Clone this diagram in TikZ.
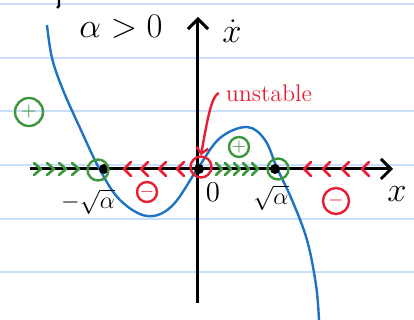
\documentclass[tikz,border=0pt]{standalone}
\usetikzlibrary{arrows.meta}

\definecolor{paperline}{RGB}{200,222,250}
\definecolor{inkgreen}{RGB}{60,150,60}
\definecolor{inkred}{RGB}{232,30,50}
\definecolor{inkblue}{RGB}{30,115,195}

\begin{document}
\begin{tikzpicture}[
  x=0.5pt, y=-0.5pt,
  axis/.style={draw=black, line width=1.5pt, -{Straight Barb[length=5pt, width=10pt, line width=1.5pt]}},
  curve/.style={draw=inkblue, line width=1.2pt},
  greenchev/.style={draw=inkgreen, line width=1.3pt, line cap=round, line join=round},
  redchev/.style={draw=inkred, line width=1.3pt, line cap=round, line join=round},
  greenring/.style={circle, draw=inkgreen, line width=1.2pt, minimum size=10.5pt, inner sep=0pt},
  redring/.style={circle, draw=inkred, line width=1.2pt, minimum size=10.5pt, inner sep=0pt},
  greensign/.style={circle, draw=inkgreen, line width=1.2pt, inner sep=0pt, text=inkgreen, font=\bfseries},
  redsign/.style={circle, draw=inkred, line width=1.2pt, inner sep=0pt, text=inkred, font=\bfseries},
  lbl/.style={font=\large}
]
  \useasboundingbox (0,0) rectangle (414,320);

  % notebook lines
  \foreach \y in {4,58,111,165,219,272}
    \draw[paperline, line width=1pt] (0,\y) -- (414,\y);

  % stray pen mark at the top
  \draw[line width=1.2pt] (59,0) -- (59,6) -- (57,8);

  % axes
  \coordinate (xstart) at (30,169);
  \coordinate (xend) at (393,169);
  \coordinate (ystart) at (198,303);
  \coordinate (yend) at (198,17);
  \draw[axis] (xstart) -- (xend);
  \draw[axis] (ystart) -- (yend);

  % phase curve
  \draw[curve] plot[smooth, tension=0.6] coordinates {
    (47,25) (52,58) (63,90) (80,128) (100,170) (120,200) (147,216) (172,206)
    (198,168) (220,138) (247,127) (265,140) (277,168) (292,200) (307,240) (316,285) (319,320)};

  % flow arrows
  \foreach \x in {38,51,63,76}
    \draw[greenchev] (\x-4,163) -- (\x+3,169) -- (\x-4,175);
  \foreach \x in {219,228,237,246,255}
    \draw[greenchev] (\x-3,163) -- (\x+3,169) -- (\x-3,175);
  \foreach \x in {127,144,162,180}
    \draw[redchev] (\x+4,162) -- (\x-3,169) -- (\x+4,176);
  \foreach \x in {307,326,345,365}
    \draw[redchev] (\x+4,162) -- (\x-3,169) -- (\x+4,176);

  % fixed points
  \foreach \p in {104,199,275}
    \fill (\p,169) circle (2.5pt);
  \node[greenring] (eqL) at (98,170) {};
  \node[redring] (eqO) at (201,167) {};
  \node[greenring] (eqR) at (278,169) {};

  % sign marks
  \node[greensign, minimum size=14pt] (posL) at (29,112) {$+$};
  \node[greensign, minimum size=10pt, font=\small\bfseries] (posM) at (239,147) {$+$};
  \node[redsign, minimum size=10pt, font=\small\bfseries] (negM) at (147,192) {$-$};
  \node[redsign, minimum size=13pt] (negR) at (336,201) {$-$};

  % labels
  \node[font=\LARGE] (alpha) at (121,27) {$\alpha > 0$};
  \node[font=\LARGE, inner sep=1pt] (xdot) at (232,31) {$\dot{x}$};
  \node[font=\LARGE] (xlbl) at (397,194) {$x$};
  \node[font=\Large] (zero) at (213,192) {$0$};
  \node[lbl] (mroot) at (88,202) {$-\sqrt{\alpha}$};
  \node[lbl] (proot) at (271,198) {$\sqrt{\alpha}$};

  % unstable note
  \node[text=inkred, font=\large] (unst) at (269,93) {unstable};
  \draw[inkred, line width=1.2pt, -{Straight Barb[length=3pt, width=6pt]}]
    (unst.west) .. controls (212,96) and (208,115) .. (eqO.north);
\end{tikzpicture}
\end{document}
